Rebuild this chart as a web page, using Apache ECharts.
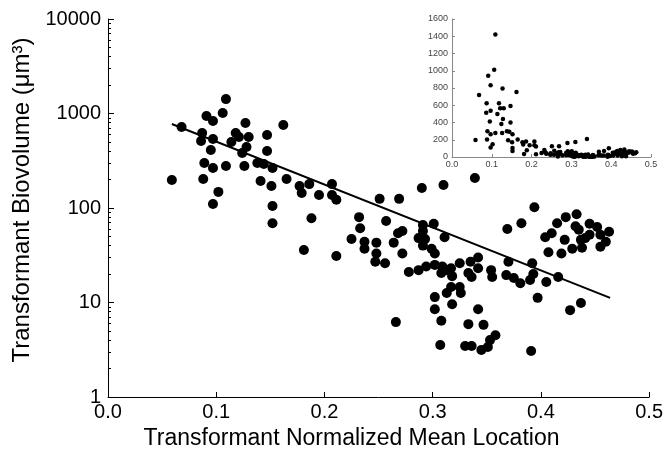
<!DOCTYPE html>
<html>
<head>
<meta charset="utf-8">
<script src="https://cdn.jsdelivr.net/npm/echarts@6/dist/echarts.min.js"></script>
<style>html,body{margin:0;padding:0;background:#fff}#c{width:666px;height:462px}</style>
</head>
<body>
<div id="c"></div>
<script>
// Transformant normalized mean location (x) and biovolume in µm³ (y)
const meanLocation = [
0.059,0.068,0.086,0.087,0.088,0.089,0.091,0.095,0.097,0.097,0.097,0.097,0.102,0.106,0.109,0.109,
0.114,0.118,0.121,0.124,0.126,0.127,0.128,0.130,0.138,0.141,0.144,0.147,0.147,0.151,0.152,0.152,
0.152,0.162,0.165,0.177,0.179,0.186,0.188,0.181,0.195,
0.207,0.207,0.211,0.211,0.225,0.232,0.233,0.237,0.237,0.248,0.248,0.247,0.251,0.257,0.256,0.264,
0.266,0.268,0.272,0.269,0.272,0.278,0.287,0.290,0.291,0.301,0.291,0.287,0.293,0.291,0.299,0.302,
0.311,0.310,0.294,0.302,0.309,0.313,0.317,0.308,0.318,0.325,0.335,0.342,0.333,0.342,0.339,0.354,
0.355,0.317,0.313,0.325,0.326,0.302,0.318,0.302,0.308,0.342,0.333,0.347,0.307,0.330,0.336,0.345,
0.351,0.353,0.358,0.336,
0.369,0.382,0.394,0.370,0.368,0.375,0.381,0.390,0.392,0.393,0.405,0.416,0.397,0.427,0.437,0.391,
0.404,0.410,0.415,0.423,0.433,0.422,0.407,0.419,0.429,0.438,0.435,0.445,0.452,0.463,0.437,0.445,
0.455,0.460,0.455,0.432,0.441
];
const biovolume = [
198,720,512,622,203,299,941,411,833,537,265,110,148,1012,1420,278,
500,622,564,382,278,793,442,564,299,193,292,592,401,171,265,105,
69,755,203,171,144,179,78,36,137,
179,137,122,31,47,80,61,44,37,43,33,27,125,73,26,43,
6.2,54,57,125,33,21,22,163,66,68,57,48,47,40,37,33,
49,175,24,25,24,22,23,20.5,19,26,27,30,20.5,23,208,22,
18.6,14.6,12.6,14.6,12.6,11.4,9.6,8.5,6.4,8.5,5.9,5.8,3.55,3.47,3.47,3.14,
3.38,4.0,4.5,18.6,
60,69,102,27,19.5,18.2,16,17.3,26,20,16.5,18.6,11.2,8.3,9.9,3.07,
49,54,69,80,86,46,34,33,37,38,59,68,63,56,46,52,
52,44,39,64,48
];
// Fitted regression line end points
const fitLocation = [0.059, 0.464];
const fitBiovolume = [774, 11.2];
// Axis tick values
const xTicks = [0, 0.1, 0.2, 0.3, 0.4, 0.5];
const yMajorTicks = [1, 10, 100, 1000, 10000];
const yMinorTicks = [2,3,4,5,6,7,8,9,20,30,40,50,60,70,80,90,200,300,400,500,600,700,800,900,2000,3000,4000,5000,6000,7000,8000,9000];

const points = meanLocation.map((x, i) => [x, biovolume[i]]);
const fitLine = fitLocation.map((x, i) => [x, fitBiovolume[i]]);
const font = 'Liberation Sans, Arial, sans-serif';

const chart = echarts.init(document.getElementById('c'), null, {renderer: 'canvas'});
chart.setOption({
  animation: false,
  backgroundColor: '#fff',
  grid: [
    {left: 108, right: 14, top: 19, bottom: 65},
    {left: 452, right: 15, top: 19, bottom: 305, z: 5}
  ],
  xAxis: [
    {
      gridIndex: 0, type: 'value', min: 0, max: 0.5, interval: 0.1,
      name: 'Transformant Normalized Mean Location', nameLocation: 'middle', nameGap: 29,
      nameTextStyle: {fontFamily: font, fontSize: 23, color: '#000', padding: [0, 54, 0, 0]},
      axisLine: {lineStyle: {color: '#000', width: 1}},
      axisTick: {inside: true, length: 5, lineStyle: {color: '#000'}, customValues: xTicks},
      axisLabel: {fontFamily: font, fontSize: 20, color: '#000', margin: 5, customValues: xTicks,
        formatter: v => v.toFixed(1)},
      splitLine: {show: false}
    },
    {
      gridIndex: 1, type: 'value', min: 0, max: 0.5, interval: 0.1,
      axisLine: {lineStyle: {color: '#888', width: 1}},
      axisTick: {inside: true, length: 3, lineStyle: {color: '#888'}},
      axisLabel: {fontFamily: font, fontSize: 9, color: '#444', margin: 3, formatter: v => v.toFixed(1)},
      splitLine: {show: false}
    }
  ],
  yAxis: [
    {
      gridIndex: 0, type: 'log', logBase: 10, min: 1, max: 10000,
      name: 'Transformant Biovolume (μm³)', nameLocation: 'middle', nameGap: 72,
      nameTextStyle: {fontFamily: font, fontSize: 24, color: '#000', padding: [0, 0, 0, 16]},
      axisLine: {show: true, lineStyle: {color: '#000', width: 1}},
      axisTick: {inside: true, length: 6, lineStyle: {color: '#000'}, customValues: yMajorTicks},
      axisLabel: {fontFamily: font, fontSize: 20, color: '#000', margin: 7, customValues: yMajorTicks,
        formatter: v => String(Math.round(v))},
      splitLine: {show: false}
    },
    {
      gridIndex: 0, type: 'log', logBase: 10, min: 1, max: 10000, position: 'left',
      axisLine: {show: false},
      axisTick: {inside: true, length: 3, lineStyle: {color: '#000'}, customValues: yMinorTicks},
      axisLabel: {show: false},
      splitLine: {show: false}
    },
    {
      gridIndex: 1, type: 'value', min: 0, max: 1600, interval: 200,
      axisLine: {show: true, lineStyle: {color: '#888', width: 1}},
      axisTick: {show: true, inside: true, length: 3, lineStyle: {color: '#888'}},
      axisLabel: {fontFamily: font, fontSize: 9, color: '#444', margin: 4, formatter: v => String(v)},
      splitLine: {show: false}
    }
  ],
  series: [
    {
      type: 'scatter', xAxisIndex: 0, yAxisIndex: 0, data: points,
      symbol: 'circle', symbolSize: 10, itemStyle: {color: '#000', opacity: 1}
    },
    {
      type: 'line', xAxisIndex: 0, yAxisIndex: 0, data: fitLine,
      showSymbol: false, symbol: 'none', lineStyle: {color: '#000', width: 2}, z: 3
    },
    {
      type: 'scatter', xAxisIndex: 1, yAxisIndex: 2, data: points,
      symbol: 'circle', symbolSize: 4.5, itemStyle: {color: '#000', opacity: 1}
    }
  ]
});
</script>
</body>
</html>
